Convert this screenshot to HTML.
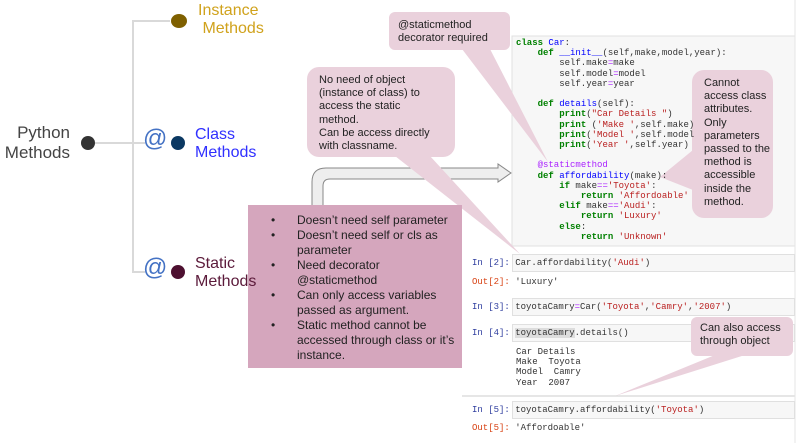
<!DOCTYPE html>
<html><head><meta charset="utf-8"><style>
body{margin:0;width:797px;height:443px;background:#fff;position:relative;overflow:hidden;font-family:"Liberation Sans",sans-serif}
.a{position:absolute;white-space:pre}
.c{position:absolute;font-family:"Liberation Mono",monospace;font-size:9px;white-space:pre;color:#333;line-height:10.2px}
.k{color:#008000;font-weight:bold}.s{color:#ba2121}.f{color:#0000ff}.d{color:#aa22ff}.g{color:#303f9f}.r{color:#d84315}
.box{position:absolute;left:512px;right:2px;background:#f7f7f7;border:1px solid #e0e0e0}
.b{position:absolute;left:297px;width:165px;font-size:12px;color:#222;line-height:15px}
.b:before{content:"•";position:absolute;left:-26px}
</style></head><body>
<svg width="797" height="443" style="position:absolute;left:0;top:0">
<g stroke="#d9d9d9" stroke-width="2" fill="none">
<line x1="95" y1="143" x2="133" y2="143"/>
<polyline points="170,21 133,21 133,272 145,272"/>
<line x1="133" y1="143" x2="145" y2="143"/>
</g>
<circle cx="88" cy="143" r="7" fill="#333"/>
<ellipse cx="179" cy="21" rx="8" ry="7" fill="#7f6000"/>
<circle cx="178" cy="143" r="7" fill="#0b3862"/>
<circle cx="178" cy="272" r="7" fill="#4d1030"/>
<rect x="512" y="36" width="283" height="210" fill="#f7f7f7" stroke="#e0e0e0"/>
<line x1="462" y1="396" x2="795" y2="396" stroke="#ccc"/>
<line x1="795" y1="0" x2="795" y2="443" stroke="#e6e6e6"/>
<path d="M312,206 L312,182 Q312,168 326,168 L498,168 L498,164 L511,173 L498,182 L498,179 L330,179 Q323,179 323,186 L323,206 Z" fill="#eeeeee" stroke="#888" stroke-width="1"/>
<g fill="#ead1dc">
<rect x="389" y="12" width="121" height="38" rx="6"/>
<polygon points="462,49 490,49 548,162"/>
<rect x="307" y="67" width="148" height="90" rx="12"/>
<polygon points="395,156 430,156 520,254"/>
<rect x="692" y="70" width="81" height="148" rx="12"/>
<polygon points="693,150 693,190 660,177"/>
</g>
<rect x="248" y="205" width="214" height="163" fill="#d5a6bd"/>
</svg>
<div class="a" style="left:0;width:70px;top:123px;font-size:17px;color:#444;line-height:20px;text-align:right;white-space:normal">Python<br>Methods</div>
<div class="a" style="left:198px;top:2px;font-size:16px;color:#d0a21c;line-height:18px">Instance
 Methods</div>
<div class="a" style="left:143px;top:125px;font-size:24px;color:#4472c4">@</div>
<div class="a" style="left:195px;top:126px;font-size:16px;color:#3030ff;line-height:18px">Class
Methods</div>
<div class="a" style="left:143px;top:254px;font-size:24px;color:#4472c4">@</div>
<div class="a" style="left:195px;top:255px;font-size:16px;color:#5b1a3a;line-height:18px">Static
Methods</div>
<div class="b" style="top:213px">Doesn’t need self parameter</div>
<div class="b" style="top:228px">Doesn’t need self or cls as parameter</div>
<div class="b" style="top:258px">Need decorator @staticmethod</div>
<div class="b" style="top:288px">Can only access variables passed as argument.</div>
<div class="b" style="top:318px">Static method cannot be accessed through class or it’s instance.</div>
<div class="a" style="left:398px;top:19px;font-size:11px;color:#222;line-height:13px">@staticmethod
decorator required</div>
<div class="a" style="left:319px;top:74px;font-size:11px;color:#222;line-height:13.2px">No need of object
(instance of class) to
access the static
method.
Can be access directly
with classname.</div>
<div class="a" style="left:704px;top:77px;font-size:11px;color:#222;line-height:13.2px">Cannot
access class
attributes.
Only
parameters
passed to the
method is
accessible
inside the
method.</div>
<div class="c" style="left:516px;top:38px"><span class="k">class</span> <span class="f">Car</span>:
    <span class="k">def</span> <span class="f">__init__</span>(self,make,model,year):
        self.make<span class="d">=</span>make
        self.model<span class="d">=</span>model
        self.year<span class="d">=</span>year

    <span class="k">def</span> <span class="f">details</span>(self):
        <span class="k">print</span>(<span class="s">"Car Details "</span>)
        <span class="k">print</span> (<span class="s">'Make '</span>,self.make)
        <span class="k">print</span>(<span class="s">'Model '</span>,self.model
        <span class="k">print</span>(<span class="s">'Year '</span>,self.year)

    <span class="d">@staticmethod</span>
    <span class="k">def</span> <span class="f">affordability</span>(make):
        <span class="k">if</span> make<span class="d">==</span><span class="s">'Toyota'</span>:
            <span class="k">return</span> <span class="s">'Affordoable'</span>
        <span class="k">elif</span> make<span class="d">==</span><span class="s">'Audi'</span>:
            <span class="k">return</span> <span class="s">'Luxury'</span>
        <span class="k">else</span>:
            <span class="k">return</span> <span class="s">'Unknown'</span></div>
<div class="box" style="top:254px;height:16px"></div>
<div class="box" style="top:298px;height:16px"></div>
<div class="box" style="top:324px;height:16px"></div>
<div class="box" style="top:401px;height:16px"></div>
<div class="c" style="left:472px;top:258px"><span class="g">In [2]:</span> Car.affordability(<span class="s">'Audi'</span>)</div>
<div class="c" style="left:472px;top:277px"><span class="r">Out[2]:</span> 'Luxury'</div>
<div class="c" style="left:472px;top:302px"><span class="g">In [3]:</span> toyotaCamry<span class="d">=</span>Car(<span class="s">'Toyota'</span>,<span class="s">'Camry'</span>,<span class="s">'2007'</span>)</div>
<div class="c" style="left:472px;top:328px"><span class="g">In [4]:</span> <span style="background:#ddd">toyotaCamry</span>.details()</div>
<div class="c" style="left:516px;top:347px">Car Details
Make  Toyota
Model  Camry
Year  2007</div>
<div class="c" style="left:472px;top:405px"><span class="g">In [5]:</span> toyotaCamry.affordability(<span class="s">'Toyota'</span>)</div>
<div class="c" style="left:472px;top:423px"><span class="r">Out[5]:</span> 'Affordoable'</div>
<svg width="797" height="443" style="position:absolute;left:0;top:0">
<g fill="#ead1dc">
<rect x="691" y="317" width="102" height="39" rx="6"/>
<polygon points="715,355 745,355 615,396"/>
</g>
</svg>
<div class="a" style="left:700px;top:322px;font-size:11px;color:#222;line-height:13px">Can also access
through object</div>
</body></html>
